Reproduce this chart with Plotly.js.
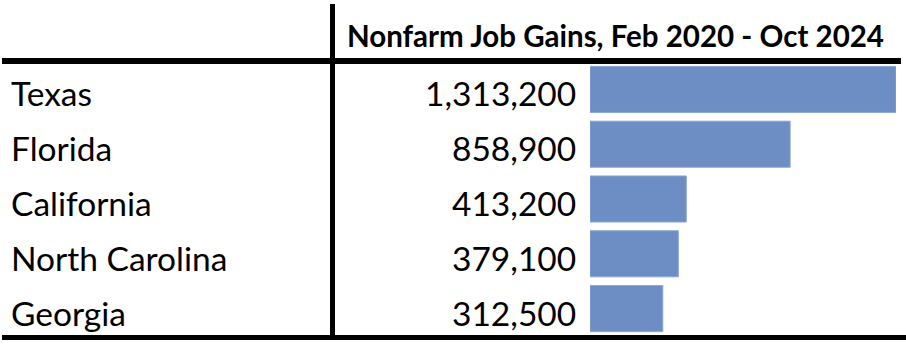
<!DOCTYPE html>
<html>
<head>
<meta charset="utf-8">
<script src="https://cdn.plot.ly/plotly-3.0.1.min.js"></script>
<style>html,body{margin:0;padding:0;background:#fff;}#chart{width:906px;height:354px;}</style>
</head>
<body>
<div id="chart"></div>
<script>
const states = ["Texas", "Florida", "California", "North Carolina", "Georgia"];
const jobGains = [1313200, 858900, 413200, 379100, 312500];
const headerText = "Nonfarm Job Gains, Feb 2020 - Oct 2024";

const W = 906, H = 354;
const px = v => v / W;
const py = v => (H - v) / H;
const FONT = "Lato, 'Open Sans', sans-serif";

const trace = {
  type: "bar",
  orientation: "h",
  x: jobGains,
  y: states,
  marker: { color: "#6c8ec4", line: { color: "#8aa6d2", width: 1 } },
  hoverinfo: "skip"
};

const annotations = [];
states.forEach((s, i) => {
  annotations.push({
    xref: "paper", yref: "y", x: px(9), y: s, xanchor: "left", yanchor: "middle",
    yshift: -4, text: s, showarrow: false,
    font: { family: FONT, size: 33.5, color: "#000" }
  });
  annotations.push({
    xref: "paper", yref: "y", x: px(578), y: s, xanchor: "right", yanchor: "middle",
    yshift: -4, text: jobGains[i].toLocaleString("en-US"), showarrow: false,
    font: { family: FONT, size: 33.5, color: "#000" }
  });
});
annotations.push({
  xref: "paper", yref: "paper", x: px(615), y: py(35), xanchor: "center", yanchor: "middle",
  text: "<b>" + headerText + "</b>", showarrow: false,
  font: { family: FONT, size: 29.5, color: "#000" }
});

const shapes = [
  { type: "line", xref: "paper", yref: "paper", x0: px(2), x1: px(901), y0: py(61), y1: py(61), line: { color: "#000", width: 6 } },
  { type: "line", xref: "paper", yref: "paper", x0: px(2), x1: px(906), y0: py(337.5), y1: py(337.5), line: { color: "#000", width: 5 } },
  { type: "line", xref: "paper", yref: "paper", x0: px(332.5), x1: px(332.5), y0: py(4), y1: py(340), line: { color: "#000", width: 5 } }
];

const layout = {
  width: W, height: H,
  margin: { l: 0, r: 0, t: 0, b: 0, pad: 0 },
  paper_bgcolor: "#fff", plot_bgcolor: "rgba(0,0,0,0)",
  showlegend: false,
  bargap: 0.16,
  xaxis: { domain: [px(590), px(896)], range: [0, 1313200], showgrid: false, zeroline: false, showticklabels: false, showline: false, ticks: "" },
  yaxis: { domain: [py(336), py(62)], range: [4.5, -0.5], type: "category", categoryorder: "array", categoryarray: states, showgrid: false, zeroline: false, showticklabels: false, showline: false, ticks: "" },
  annotations: annotations,
  shapes: shapes
};

Plotly.newPlot("chart", [trace], layout, { displayModeBar: false, staticPlot: true });
</script>
</body>
</html>
